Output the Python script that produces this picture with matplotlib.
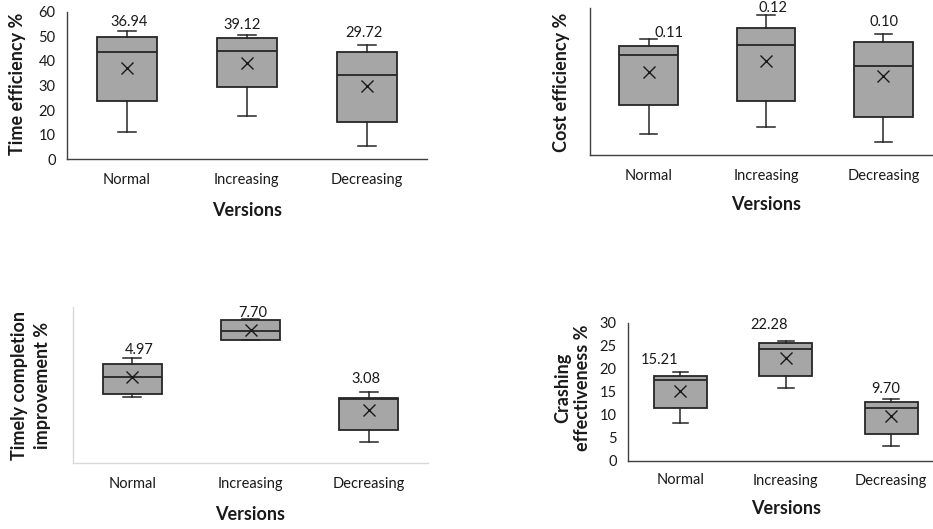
import matplotlib
matplotlib.use("Agg")
import matplotlib.pyplot as plt

plt.rcParams['font.family'] = ['Lato', 'DejaVu Sans']

categories = ["Normal", "Increasing", "Decreasing"]

# Panel 1: Time efficiency %
time_lo = [11.1, 17.6, 5.4]
time_q1 = [23.8, 29.3, 15.0]
time_med = [43.5, 44.2, 34.4]
time_q3 = [49.9, 49.2, 43.8]
time_hi = [52.3, 50.4, 46.3]
time_mean = [36.94, 39.12, 29.72]

# Panel 2: Cost efficiency % (no visible scale)
cost_lo = [0.0504, 0.0564, 0.0421]
cost_q1 = [0.0780, 0.0815, 0.0660]
cost_med = [0.1248, 0.1347, 0.1143]
cost_q3 = [0.1334, 0.1506, 0.1375]
cost_hi = [0.1407, 0.1636, 0.1452]
cost_mean = [0.1086, 0.1197, 0.1048]
cost_labels = ["0.11", "0.12", "0.10"]

# Panel 3: Timely completion improvement % (no visible scale)
timely_lo = [3.81, 7.08, 1.25]
timely_q1 = [4.00, 7.12, 1.92]
timely_med = [4.96, 7.60, 3.73]
timely_q3 = [5.73, 8.23, 3.75]
timely_hi = [6.06, 8.31, 4.10]
timely_mean = [4.97, 7.70, 3.08]

# Panel 4: Crashing effectiveness %
crash_lo = [8.2, 15.8, 3.3]
crash_q1 = [11.6, 18.5, 5.8]
crash_med = [17.5, 24.2, 11.6]
crash_q3 = [18.4, 25.5, 12.9]
crash_hi = [19.2, 26.1, 13.4]
crash_mean = [15.21, 22.28, 9.70]

W, H = 933, 529
fig = plt.figure(figsize=(W / 100, H / 100), dpi=100)

def px_axes(left, top, right, bottom):
    return fig.add_axes([left / W, 1 - bottom / H, (right - left) / W, (bottom - top) / H])

BOX_FACE = "#a6a6a6"
EDGE = "#262626"
TXT = "#1a1a1a"

def draw(ax, lo, q1, med, q3, hi, mean, labels, label_offsets, spine_color,
         ylim, yticks, ylabel, ylabel_pos, xtick_pad, xlabel_y, ylabel_ls=1.0):
    stats = []
    for i in range(len(categories)):
        stats.append(dict(whislo=lo[i], q1=q1[i], med=med[i], q3=q3[i],
                          whishi=hi[i], mean=mean[i], label=categories[i], fliers=[]))
    pos = list(range(1, len(categories) + 1))
    ax.bxp(stats, positions=pos, widths=0.5, patch_artist=True, showmeans=True,
           boxprops=dict(facecolor=BOX_FACE, edgecolor=EDGE, linewidth=1.3),
           medianprops=dict(color=EDGE, linewidth=1.3),
           whiskerprops=dict(color=EDGE, linewidth=1.1),
           capprops=dict(color=EDGE, linewidth=1.1),
           capwidths=0.15,
           meanprops=dict(marker='x', markeredgecolor=TXT, markersize=8,
                          markeredgewidth=1.0))
    ax.set_xlim(0.5, len(categories) + 0.5)
    ax.set_ylim(*ylim)
    for i, (dx, dy) in enumerate(label_offsets):
        ax.annotate(labels[i], xy=(pos[i], hi[i]), xytext=(dx, dy),
                    textcoords='offset pixels', ha='center', va='center',
                    fontsize=10.5, color=TXT)
    for s in ['top', 'right']:
        ax.spines[s].set_visible(False)
    for s in ['left', 'bottom']:
        ax.spines[s].set_color(spine_color)
        ax.spines[s].set_linewidth(1.0)
    ax.tick_params(axis='x', length=0, pad=xtick_pad, labelsize=10.5, labelcolor=TXT)
    if yticks is None:
        ax.set_yticks([])
    else:
        ax.set_yticks(yticks)
        ax.tick_params(axis='y', length=0, pad=8, labelsize=10.5, labelcolor=TXT)
    ax.set_xticks(pos)
    ax.set_xticklabels(categories)
    ax.set_facecolor('none')
    bb = ax.get_position()
    fig.text(bb.x0 + bb.width / 2, 1 - xlabel_y / H, "Versions", ha='center', va='center',
             fontsize=13, fontweight='bold', color=TXT)
    fig.text(ylabel_pos[0] / W, 1 - ylabel_pos[1] / H, ylabel, ha='center', va='center',
             rotation=90, fontsize=13, fontweight='bold', color=TXT, linespacing=ylabel_ls)

ax1 = px_axes(66.7, 11.7, 427, 159.3)
draw(ax1, time_lo, time_q1, time_med, time_q3, time_hi, time_mean,
     ["%.2f" % v for v in time_mean], [(2, 9), (-5, 10), (-3, 12)], '#404040',
     (0, 60), [0, 10, 20, 30, 40, 50, 60], "Time efficiency %", (18, 84), 10, 210)

ax2 = px_axes(590, 8, 942, 155)
draw(ax2, cost_lo, cost_q1, cost_med, cost_q3, cost_hi, cost_mean,
     cost_labels, [(20, 6), (7, 7), (1, 12)], '#404040',
     (0.03, 0.17), None, "Cost efficiency %", (562, 82), 10, 204)

ax3 = px_axes(73, 307, 428, 463.3)
draw(ax3, timely_lo, timely_q1, timely_med, timely_q3, timely_hi, timely_mean,
     ["%.2f" % v for v in timely_mean], [(7, 8), (2, 6), (-3, 13)], '#d9d9d9',
     (0, 9), None, "Timely completion\nimprovement %", (31, 385), 10, 515, 1.4)

ax4 = px_axes(627.7, 322.7, 944, 461)
draw(ax4, crash_lo, crash_q1, crash_med, crash_q3, crash_hi, crash_mean,
     ["%.2f" % v for v in crash_mean], [(-21, 12), (-17, 16), (-6, 10)], '#404040',
     (0, 30), [0, 5, 10, 15, 20, 25, 30], "Crashing\neffectiveness %", (573, 388), 9, 509, 1.2)

fig.savefig("out.png", dpi=100)
